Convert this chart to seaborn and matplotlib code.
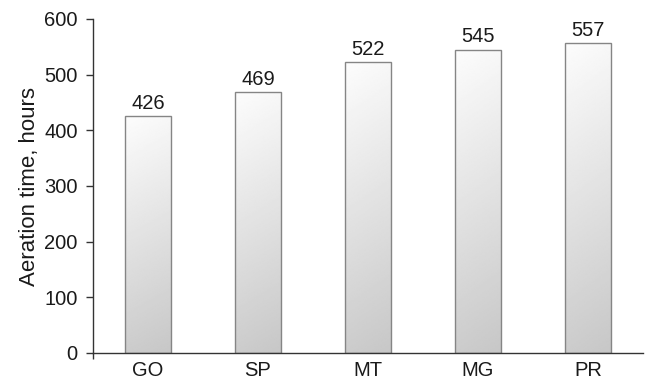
import numpy as np
import pandas as pd
import matplotlib
matplotlib.use("Agg")
import matplotlib.pyplot as plt
import seaborn as sns

categories = ["GO", "SP", "MT", "MG", "PR"]
aeration_hours = [426, 469, 522, 545, 557]
y_ticks = [0, 100, 200, 300, 400, 500, 600]

df = pd.DataFrame({"sample": categories, "hours": aeration_hours})

sns.set_style("white")
plt.rcParams["font.family"] = ["Liberation Sans", "DejaVu Sans"]

fig = plt.figure(figsize=(6.47, 3.81), dpi=100)
ax = fig.add_axes([93 / 647, 1 - 353 / 381, 550 / 647, 334 / 381])

sns.barplot(data=df, x="sample", y="hours", order=categories, color="white",
            width=0.41, edgecolor="#858585", linewidth=1.0, saturation=1,
            errorbar=None, ax=ax)

ax.set_xlim(-0.5, len(categories) - 0.5)
ax.set_ylim(0, 600)

# soft light-to-grey gradient inside every bar
yy, xx = np.mgrid[0:1:200j, 0:1:40j]
grad = 0.78 + 0.19 * yy + 0.02 * (1 - xx)
for patch in ax.patches:
    x0, y0 = patch.get_x(), patch.get_y()
    w, h = patch.get_width(), patch.get_height()
    im = ax.imshow(grad, cmap="gray", vmin=0, vmax=1, origin="lower",
                   extent=[x0, x0 + w, y0, y0 + h], aspect="auto",
                   interpolation="bilinear", zorder=patch.get_zorder() - 0.1)
    im.set_clip_path(patch)
    patch.set_facecolor("none")
    patch.set_zorder(patch.get_zorder() + 0.2)
    ax.text(x0 + w / 2, y0 + h + 6, f"{int(round(h))}", ha="center",
            va="bottom", fontsize=14.5, color="#1a1a1a")

ax.set_xlim(-0.5, len(categories) - 0.5)
ax.set_ylim(0, 600)
ax.set_yticks(y_ticks)
ax.set_yticklabels([str(t) for t in y_ticks], fontsize=14.5, color="#1a1a1a")
ax.set_xticks(range(len(categories)))
ax.set_xticklabels(categories, fontsize=14.5, color="#1a1a1a")
ax.tick_params(axis="x", length=0, pad=6)
ax.tick_params(axis="y", direction="out", length=5, width=1.0,
               color="#333333", pad=6, left=True)
ax.set_xticks([-0.5], minor=True)
ax.tick_params(axis="x", which="minor", direction="out", length=4,
               width=1.0, color="#333333", bottom=True)

ax.set_xlabel("")
ax.set_ylabel("Aeration time, hours", fontsize=16, color="#1a1a1a", labelpad=3)

for side in ["top", "right"]:
    ax.spines[side].set_visible(False)
for side in ["left", "bottom"]:
    ax.spines[side].set_color("#333333")
    ax.spines[side].set_linewidth(1.0)

fig.savefig("out.png", dpi=100, facecolor="white")
